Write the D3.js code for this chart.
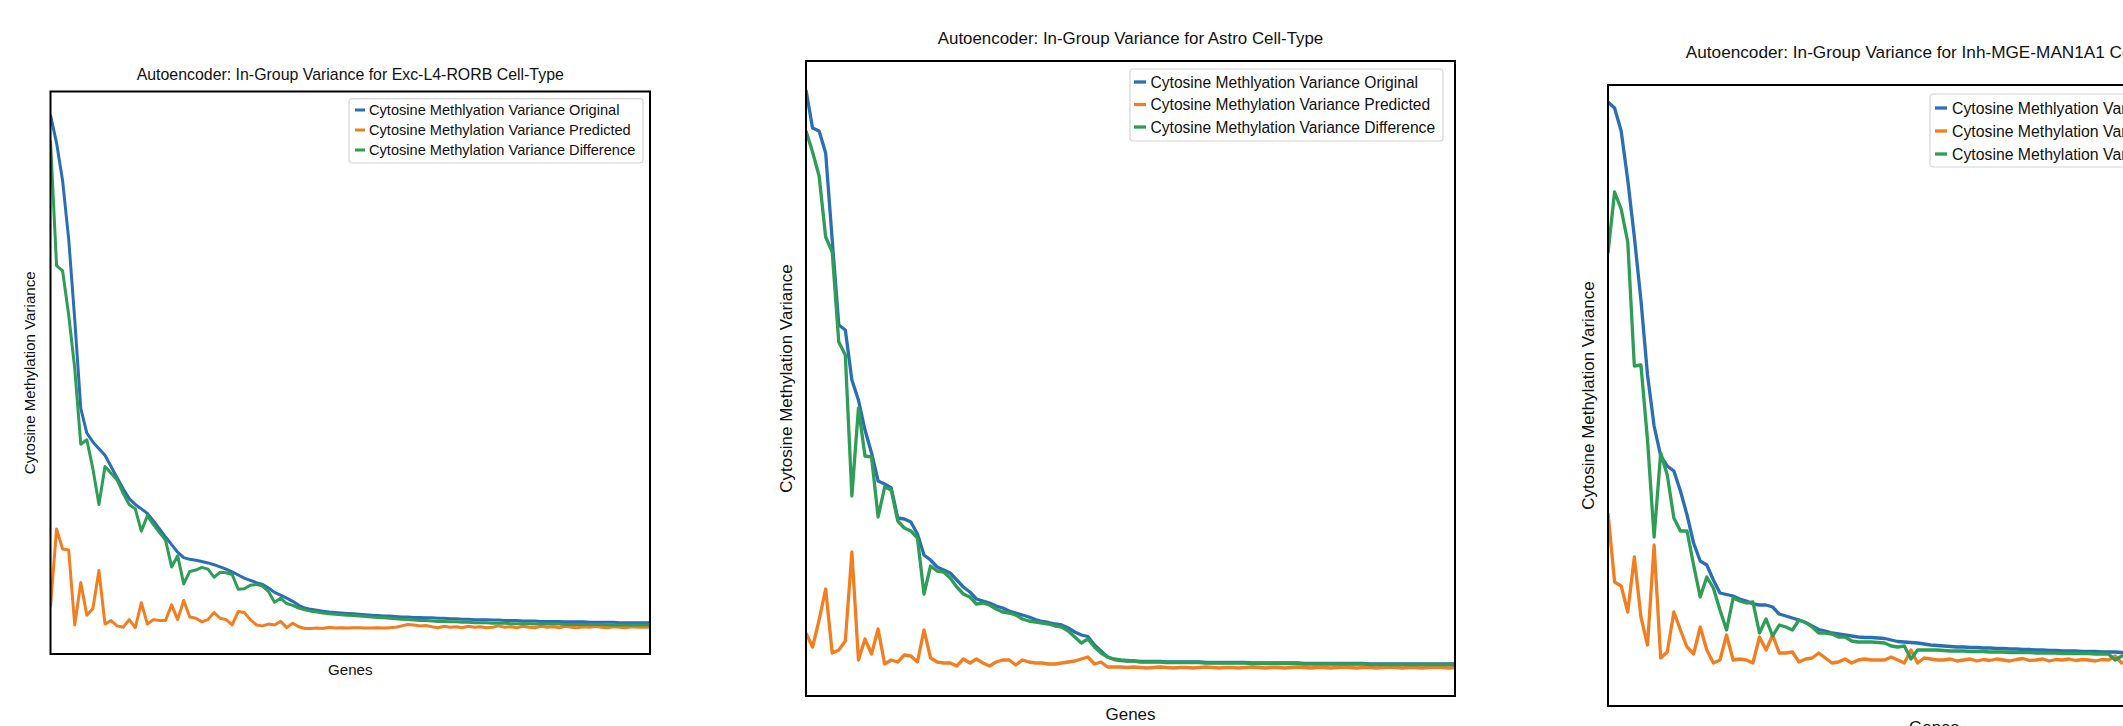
<!DOCTYPE html>
<html>
<head>
<meta charset="utf-8">
<script src="https://cdn.jsdelivr.net/npm/d3@7"></script>
<style>
  body { margin: 0; background: #fff; }
  text { font-family: "Liberation Sans", Arial, Helvetica, sans-serif; fill: #111; }
</style>
</head>
<body>
<div id="chart"></div>
<script>
// Cell types and series names
var cellTypes = ['Exc-L4-RORB', 'Astro', 'Inh-MGE-MAN1A1']
var seriesNames = ['Cytosine Methlyation Variance Original', 'Cytosine Methylation Variance Predicted', 'Cytosine Methylation Variance Difference']
var xLabel = 'Genes'
var yLabel = 'Cytosine Methylation Variance'

// Exc-L4-RORB (arbitrary units)
var excOriginal = [120.7, 114.5, 106.0, 93.0, 75.0, 55.0, 49.5, 47.5, 46.0, 44.5,
  42.0, 39.5, 37.0, 34.8, 33.5, 32.5, 31.5, 29.8, 28.0, 26.2,
  24.5, 22.8, 21.6, 21.2, 21.0, 20.7, 20.4, 20.0, 19.5, 19.0,
  18.4, 17.7, 17.0, 16.5, 16.0, 15.6, 14.8, 13.8, 13.2, 12.5,
  11.8, 10.9, 10.3, 10.0, 9.8, 9.6, 9.4, 9.3, 9.2, 9.1, 9.0,
  8.9, 8.8, 8.7, 8.6, 8.5, 8.5, 8.4, 8.3, 8.3, 8.2,
  8.2, 8.1, 8.1, 8.0, 8.0, 7.9, 7.9, 7.8, 7.8, 7.7,
  7.7, 7.7, 7.6, 7.6, 7.5, 7.5, 7.5, 7.4, 7.4, 7.4,
  7.3, 7.3, 7.3, 7.3, 7.2, 7.2, 7.2, 7.2, 7.1, 7.1,
  7.1, 7.1, 7.1, 7.0, 7.0, 7.0, 7.0, 7.0, 7.0]
var excPredicted = [10.5, 28.0, 23.5, 23.3, 6.5, 16.0, 8.7, 10.2, 18.7, 6.7,
  7.5, 6.3, 6.0, 7.7, 5.9, 11.5, 6.7, 7.7, 7.5, 7.5,
  11.0, 7.7, 12.0, 8.3, 8.0, 7.2, 7.7, 9.3, 8.0, 7.7,
  6.5, 9.5, 9.3, 7.7, 6.5, 6.3, 6.7, 6.5, 7.3, 5.9,
  6.9, 6.1, 5.7, 5.7, 5.8, 5.7, 6.0, 5.8, 5.9, 5.8, 5.9,
  5.9, 5.8, 5.8, 5.9, 5.8, 5.9, 6.0, 6.3, 6.6, 6.5,
  6.3, 6.4, 6.1, 5.9, 6.2, 6.0, 6.1, 5.9, 6.2, 6.0,
  6.1, 5.9, 6.0, 6.3, 6.0, 6.1, 5.9, 6.2, 6.0, 5.9,
  6.2, 6.0, 6.1, 5.9, 6.2, 6.0, 5.9, 6.1, 6.0, 6.2,
  6.0, 5.9, 6.1, 6.0, 5.9, 6.1, 6.0, 6.0, 6.0]
var excDifference = [115.0, 87.0, 85.8, 76.0, 64.0, 47.0, 48.0, 41.5, 33.5, 42.0,
  40.5, 39.0, 36.0, 33.5, 32.5, 27.5, 31.0, 29.0, 27.2, 25.5,
  19.5, 22.0, 15.7, 18.5, 18.8, 19.4, 19.0, 17.2, 18.3, 18.2,
  17.8, 14.5, 14.6, 15.4, 15.6, 15.2, 14.0, 11.6, 12.5, 11.3,
  10.9, 10.3, 9.9, 9.6, 9.4, 9.2, 9.0, 8.9, 8.8, 8.7, 8.6,
  8.5, 8.4, 8.3, 8.2, 8.1, 8.0, 7.9, 7.8, 7.7, 7.6,
  7.5, 7.5, 7.4, 7.3, 7.3, 7.2, 7.2, 7.1, 7.1, 7.0,
  7.0, 7.0, 6.9, 6.9, 6.9, 6.8, 6.8, 6.8, 6.8, 6.7,
  6.7, 6.7, 6.7, 6.7, 6.6, 6.6, 6.6, 6.6, 6.6, 6.6,
  6.6, 6.5, 6.5, 6.5, 6.5, 6.5, 6.5, 6.5, 6.5]

// Astro
var astroOriginal = [121.2, 113.6, 113.0, 108.6, 91.2, 74.2, 73.2, 63.2, 59.2, 53.2,
  48.6, 43.0, 42.4, 41.6, 35.6, 35.4, 34.8, 32.4, 28.2, 27.2,
  25.8, 25.2, 24.6, 23.2, 21.8, 20.8, 19.4, 19.0, 18.6, 18.0,
  17.6, 17.0, 16.6, 16.2, 15.8, 15.3, 14.9, 14.7, 14.4, 14.2,
  13.6, 12.8, 12.2, 11.9, 10.2, 9.0, 7.8, 7.3, 7.1, 7.0, 7.0,
  6.9, 6.9, 6.9, 6.9, 6.8, 6.8, 6.8, 6.8, 6.8, 6.8,
  6.7, 6.7, 6.7, 6.7, 6.7, 6.7, 6.7, 6.6, 6.6, 6.6,
  6.6, 6.6, 6.6, 6.6, 6.6, 6.5, 6.5, 6.5, 6.5, 6.5,
  6.5, 6.5, 6.5, 6.5, 6.5, 6.4, 6.4, 6.4, 6.4, 6.4,
  6.4, 6.4, 6.4, 6.4, 6.4, 6.4, 6.4, 6.4, 6.4]
var astroPredicted = [12.6, 9.8, 15.2, 21.4, 8.6, 9.2, 11.0, 28.8, 7.2, 11.4,
  8.4, 13.4, 6.4, 7.2, 6.8, 8.2, 8.0, 6.8, 13.2, 7.6,
  6.8, 6.6, 6.6, 6.0, 7.4, 6.6, 7.4, 6.6, 6.0, 6.8,
  7.2, 7.2, 6.2, 7.2, 6.8, 6.6, 6.6, 6.4, 6.4, 6.6,
  6.8, 7.0, 7.4, 7.8, 6.4, 6.8, 5.8, 5.8, 5.8, 5.7, 5.8,
  5.7, 5.6, 5.7, 5.8, 5.7, 5.6, 5.7, 5.7, 5.6, 5.7,
  5.8, 5.7, 5.6, 5.7, 5.7, 5.6, 5.7, 5.8, 5.7, 5.6,
  5.7, 5.7, 5.6, 5.7, 5.8, 5.7, 5.6, 5.7, 5.7, 5.6,
  5.7, 5.8, 5.7, 5.6, 5.7, 5.7, 5.6, 5.7, 5.8, 5.7,
  5.6, 5.7, 5.7, 5.6, 5.7, 5.8, 5.7, 5.6, 5.7]
var astroDifference = [113.0, 108.8, 104.0, 91.8, 88.8, 70.8, 68.2, 40.0, 57.6, 48.0,
  47.8, 35.8, 41.8, 41.2, 35.0, 33.6, 33.0, 31.6, 20.4, 26.0,
  25.0, 24.8, 23.6, 21.8, 20.4, 19.8, 18.4, 18.6, 18.2, 17.4,
  16.8, 16.6, 16.2, 15.4, 15.0, 14.8, 14.6, 14.4, 14.0, 13.8,
  13.0, 11.8, 10.6, 11.4, 9.8, 8.6, 7.8, 7.4, 7.2, 7.1, 7.0,
  6.8, 6.8, 6.8, 6.8, 6.7, 6.7, 6.7, 6.7, 6.7, 6.7,
  6.6, 6.6, 6.6, 6.6, 6.6, 6.6, 6.6, 6.5, 6.5, 6.5,
  6.5, 6.5, 6.5, 6.5, 6.5, 6.4, 6.4, 6.4, 6.4, 6.4,
  6.4, 6.4, 6.4, 6.4, 6.4, 6.3, 6.3, 6.3, 6.3, 6.3,
  6.3, 6.3, 6.3, 6.3, 6.3, 6.3, 6.3, 6.3, 6.3]

// Inh-MGE-MAN1A1
var inhOriginal = [120.8, 119.6, 115.0, 105.2, 93.8, 81.2, 66.2, 56.0, 50.0, 48.0,
  47.0, 43.0, 38.2, 32.6, 29.0, 28.2, 25.2, 22.6, 22.3, 22.0,
  21.4, 21.0, 20.4, 20.2, 20.2, 19.8, 18.4, 18.0, 17.6, 17.2,
  16.7, 16.0, 15.3, 15.0, 14.6, 14.4, 14.2, 14.0, 13.8, 13.7,
  13.7, 13.6, 13.5, 13.2, 12.9, 12.8, 12.7, 12.6, 12.4, 12.2, 12.1, 12.0, 11.9,
  11.8, 11.8, 11.7, 11.7, 11.6, 11.6, 11.5, 11.5, 11.4, 11.4,
  11.3, 11.3, 11.2, 11.2, 11.1, 11.1, 11.0, 11.0, 11.0, 10.9,
  10.9, 10.9, 10.8, 10.8, 10.8, 10.7, 10.7, 10.7, 10.6, 10.6,
  10.6, 10.5, 10.5, 10.5, 10.5, 10.4, 10.4, 10.4, 10.4, 10.3,
  10.3, 10.3, 10.3, 10.2, 10.2, 10.2, 10.2]
var inhPredicted = [38.6, 24.8, 24.0, 18.8, 29.8, 17.8, 12.2, 32.2, 9.6, 10.8,
  18.8, 15.2, 11.8, 10.4, 15.8, 11.2, 8.6, 9.2, 14.2, 9.2,
  9.4, 9.2, 8.6, 13.8, 11.2, 14.2, 10.6, 10.6, 10.8, 8.8,
  9.4, 9.6, 10.6, 9.6, 8.6, 8.8, 9.4, 8.6, 9.2, 9.4,
  9.2, 9.2, 9.2, 9.8, 9.2, 8.6, 11.2, 8.6, 9.6, 9.4, 9.2,
  9.2, 9.4, 9.0, 9.2, 9.4, 9.0, 9.3, 9.1, 9.4, 9.2,
  9.0, 9.3, 9.5, 9.1, 9.2, 9.4, 9.0, 9.3, 9.2, 9.4,
  9.1, 9.3, 9.2, 9.0, 9.3, 9.2, 10.0, 8.6, 9.2, 9.3,
  9.1, 9.2, 9.4, 9.0, 9.2, 9.3, 9.1, 9.2, 9.0, 9.3,
  9.2, 9.1, 9.3, 9.0, 9.2, 9.1, 9.2, 9.0, 9.1]
var inhDifference = [90.6, 102.8, 99.4, 92.8, 68.0, 68.2, 53.2, 33.8, 50.6, 46.2,
  37.6, 35.0, 35.0, 28.2, 21.8, 25.8, 23.6, 19.2, 15.2, 21.6,
  21.0, 20.6, 20.8, 14.6, 17.4, 14.0, 16.2, 15.8, 15.2, 17.2,
  16.7, 15.8, 14.6, 14.6, 14.4, 13.8, 13.8, 13.0, 12.8, 12.8,
  12.8, 12.7, 12.6, 12.0, 11.8, 12.0, 9.4, 11.2, 11.2, 11.2, 11.2,
  11.1, 11.0, 11.0, 11.0, 10.9, 10.9, 10.9, 10.8, 10.8, 10.8,
  10.7, 10.7, 10.7, 10.7, 10.6, 10.6, 10.6, 10.6, 10.5, 10.5,
  10.5, 10.5, 10.5, 10.4, 10.4, 10.4, 9.2, 10.0, 10.3, 10.3,
  10.3, 10.2, 10.2, 10.2, 10.2, 10.1, 10.1, 10.1, 10.1, 10.0,
  10.0, 10.0, 10.0, 9.9, 9.9, 9.9, 9.9, 9.8, 9.8]

// upper y limit of each panel (lower is 0)
var yMax = [126, 127, 124.2]

var colors = ['#2a6fb4', '#f27e22', '#2e9d55']

var seriesByPanel = [
  [excOriginal, excPredicted, excDifference],
  [astroOriginal, astroPredicted, astroDifference],
  [inhOriginal, inhPredicted, inhDifference]
]

// panel geometry on the page (pixels)
var layout = [
  {x: 50.5, y: 91.5, w: 599.5, h: 562.5, titleY: 74, xlabY: 670, ylabX: 30, fTitle: 15.9, fLab: 15.1, fLeg: 14.6, lw: 3,
   leg: {x: 349, y: 98.7, w: 294, h: 64.3, rows: [11.3, 31.3, 51.3], h0: 6, h1: 16, tx: 20}},
  {x: 806, y: 61, w: 649, h: 635, titleY: 38, xlabY: 714, ylabX: 786, fTitle: 16.9, fLab: 17, fLeg: 15.6, lw: 3.3,
   leg: {x: 1130, y: 69, w: 313, h: 72, rows: [13, 35.5, 58], h0: 4, h1: 16, tx: 20.5}},
  {x: 1608, y: 85, w: 652, h: 621, titleY: 52, xlabY: 727, ylabX: 1588, fTitle: 17.2, fLab: 17, fLeg: 15.8, lw: 3.3,
   leg: {x: 1930, y: 94, w: 330, h: 73, rows: [14, 37, 60], h0: 5, h1: 17, tx: 22}}
]

var svg = d3.select('#chart').append('svg')
  .attr('width', 2123)
  .attr('height', 726)
  .style('display', 'block')

layout.forEach(function(p, k) {
  var series = seriesByPanel[k]
  var n = series[0].length

  var xScale = d3.scaleLinear().domain([0, n - 1]).range([0, p.w])
  var yScale = d3.scaleLinear().domain([0, yMax[k]]).range([p.h, 0])

  var g = svg.append('g').attr('transform', 'translate(' + p.x + ',' + p.y + ')')

  g.append('clipPath').attr('id', 'clip' + k)
    .append('rect').attr('width', p.w).attr('height', p.h)

  var line = d3.line()
    .x(function(d, i) { return xScale(i) })
    .y(function(d) { return yScale(d) })

  g.append('g').attr('clip-path', 'url(#clip' + k + ')')
    .selectAll('path')
    .data(series)
    .enter()
    .append('path')
    .attr('d', line)
    .attr('fill', 'none')
    .attr('stroke', function(d, i) { return colors[i] })
    .attr('stroke-width', p.lw)
    .attr('stroke-linejoin', 'round')

  // frame
  g.append('rect')
    .attr('width', p.w)
    .attr('height', p.h)
    .attr('fill', 'none')
    .attr('stroke', '#000')
    .attr('stroke-width', 2)

  // title
  svg.append('text')
    .attr('x', p.x + p.w / 2)
    .attr('y', p.titleY)
    .attr('dy', '0.36em')
    .attr('text-anchor', 'middle')
    .style('font-size', p.fTitle + 'px')
    .text('Autoencoder: In-Group Variance for ' + cellTypes[k] + ' Cell-Type')

  // axis labels
  svg.append('text')
    .attr('x', p.x + p.w / 2)
    .attr('y', p.xlabY)
    .attr('dy', '0.36em')
    .attr('text-anchor', 'middle')
    .style('font-size', p.fLab + 'px')
    .text(xLabel)

  svg.append('text')
    .attr('transform', 'translate(' + p.ylabX + ',' + (p.y + p.h / 2) + ') rotate(-90)')
    .attr('dy', '0.36em')
    .attr('text-anchor', 'middle')
    .style('font-size', p.fLab + 'px')
    .text(yLabel)

  // legend
  var legend = svg.append('g')
    .attr('class', 'legend')
    .attr('transform', 'translate(' + p.leg.x + ',' + p.leg.y + ')')

  legend.append('rect')
    .attr('width', p.leg.w)
    .attr('height', p.leg.h)
    .attr('rx', 3)
    .attr('fill', '#fff')
    .attr('fill-opacity', 0.85)
    .attr('stroke', '#d4d4d4')
    .attr('stroke-width', 1.2)

  seriesNames.forEach(function(name, i) {
    legend.append('line')
      .attr('x1', p.leg.h0).attr('x2', p.leg.h1)
      .attr('y1', p.leg.rows[i]).attr('y2', p.leg.rows[i])
      .attr('stroke', colors[i])
      .attr('stroke-width', p.lw)
    legend.append('text')
      .attr('x', p.leg.tx)
      .attr('y', p.leg.rows[i])
      .attr('dy', '0.36em')
      .style('font-size', p.fLeg + 'px')
      .text(name)
  })
})
</script>
</body>
</html>
